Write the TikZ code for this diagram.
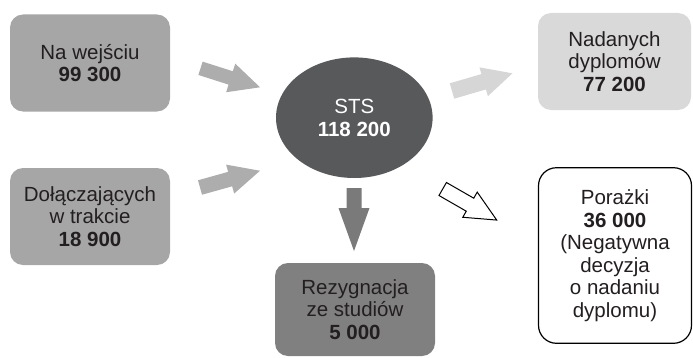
\documentclass[tikz,border=0pt]{standalone}
\usepackage{fontspec}
\setmainfont{Liberation Sans}
\usetikzlibrary{shapes.geometric}
\definecolor{boxmid}{HTML}{A6A6A6}
\definecolor{boxlight}{HTML}{D9D9D9}
\definecolor{boxdark}{HTML}{808080}
\definecolor{ellfill}{HTML}{58595B}
\definecolor{arrmid}{HTML}{ADADAD}
\definecolor{arrlight}{HTML}{D6D6D6}
\definecolor{arrdark}{HTML}{7A7A7A}
\definecolor{txt}{HTML}{231F20}
% #1 style, #2 tail coordinate, #3 angle, #4 length, #5 head length, #6 shaft width, #7 head width
\newcommand\myblockarrow[7]{%
  \begin{scope}[shift={#2},rotate=#3]
    \path[#1] (0,-#6/2) -- ({#4-#5},-#6/2) -- ({#4-#5},-#7/2) -- (#4,0)
      -- ({#4-#5},#7/2) -- ({#4-#5},#6/2) -- (0,#6/2) -- cycle;
  \end{scope}}
\begin{document}
\begin{tikzpicture}[x=1pt,y=1pt,
  every node/.style={text=txt,font=\fontsize{20.5}{22.5}\selectfont,align=center,inner sep=0pt},
  box/.style={rectangle,rounded corners=13pt},
  outlinebox/.style={rectangle,rounded corners=18pt,draw=black,line width=1.2pt,fill=white}]
\useasboundingbox (0,0) rectangle (693,357);
\node[box,fill=boxmid,minimum width=160pt,minimum height=97pt] (in) at (90,294)
  {Na wejściu\\\textbf{99 300}};
\node[box,fill=boxmid,minimum width=160pt,minimum height=97pt] (join) at (90,140.5)
  {Dołączających\\w trakcie\\\textbf{18 900}};
\node[ellipse,fill=ellfill,text=white,minimum width=156.6pt,minimum height=120.6pt] (sts) at (354.3,239.3)
  {\baselineskip=25pt STS\\\textbf{118 200}};
\node[box,fill=boxlight,minimum width=153pt,minimum height=97pt] (dipl) at (614.5,295.5)
  {Nadanych\\dyplomów\\\textbf{77 200}};
\node[outlinebox,minimum width=153pt,minimum height=175.6pt] (fail) at (615,101.5)
  {Porażki\\\textbf{36 000}\\(Negatywna\\decyzja\\o nadaniu\\dyplomu)};
\node[box,fill=boxdark,minimum width=160pt,minimum height=93pt] (resig) at (355,47.5)
  {Rezygnacja\\ze studiów\\\textbf{5 000}};
\myblockarrow{fill=arrmid}{(200.5,288.7)}{-17.7}{62.5}{30.8}{14}{30}
\myblockarrow{fill=arrmid}{(200,169.5)}{15.6}{62.3}{31}{15}{30}
\myblockarrow{fill=arrlight}{(452,266)}{16.3}{63}{30}{16}{30}
\myblockarrow{fill=arrdark}{(354,169)}{-90}{63}{43}{15}{31}
\myblockarrow{draw=black,line width=1pt,fill=white,line join=miter}{(442.7,168)}{-29.9}{62.3}{30.8}{15}{29}
\end{tikzpicture}
\end{document}
